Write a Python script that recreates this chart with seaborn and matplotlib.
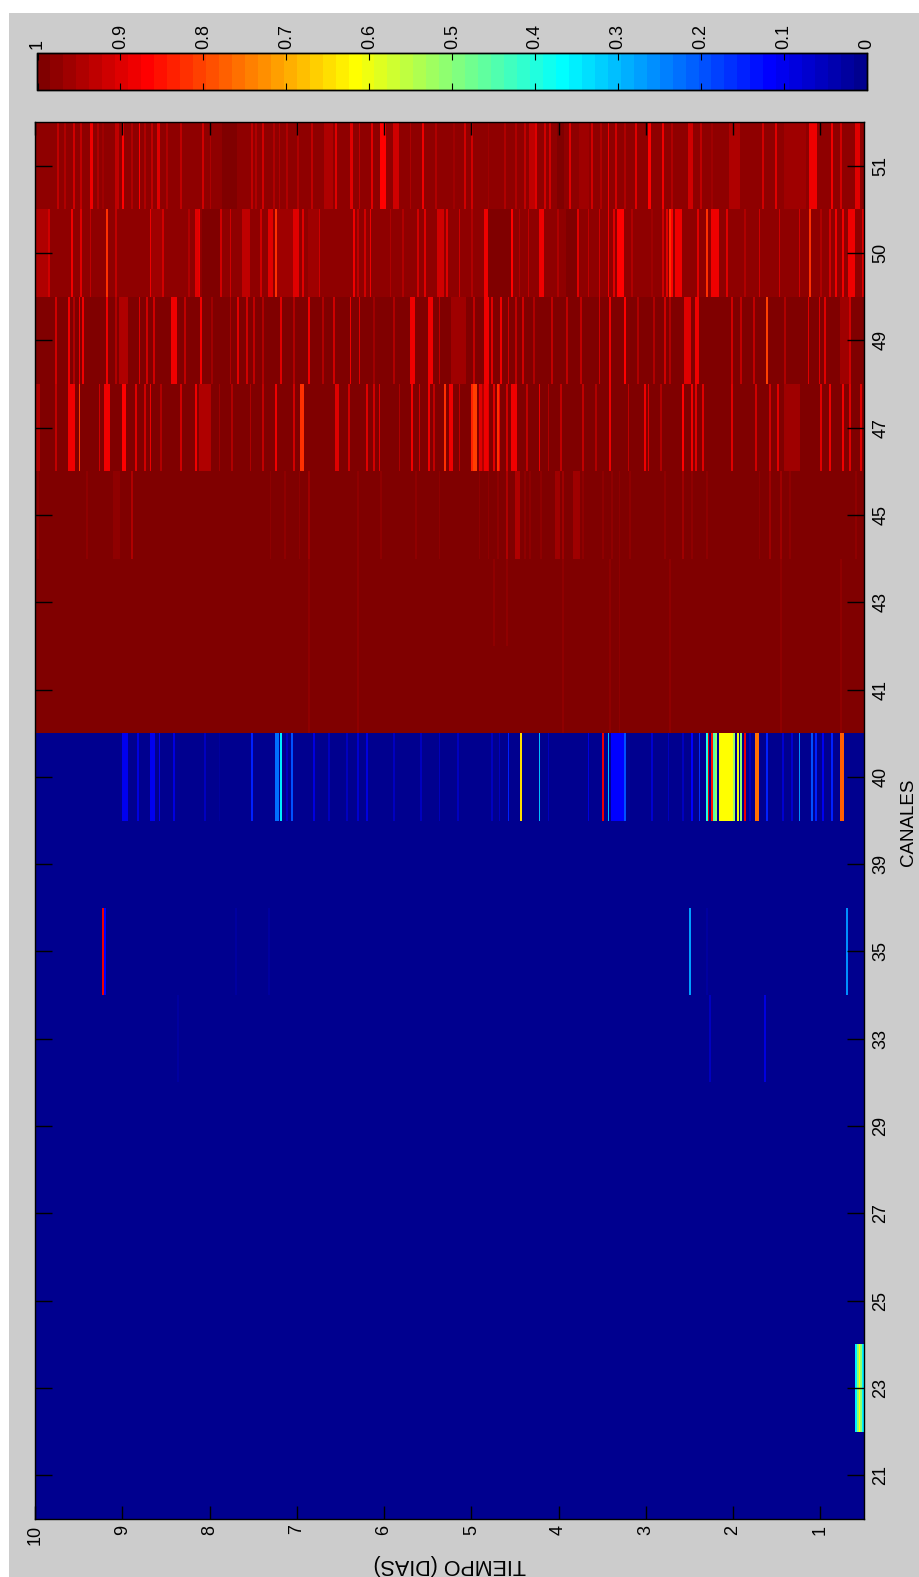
"""
plot.py
Mapa de canales vs tiempo (figura MATLAB girada), redibujado con seaborn.

Cada canal tiene un nivel de fondo y una lista de franjas leidas de la figura:
    (dia, valor)               una sola muestra
    (dia_ini, dia_fin, valor)  un tramo de varias muestras
"""

import matplotlib

matplotlib.use("Agg")

import matplotlib.pyplot as plt
import numpy as np
import seaborn as sns
from matplotlib.colors import LinearSegmentedColormap
from matplotlib.patches import Rectangle

plt.rcParams["font.family"] = ["Liberation Sans", "DejaVu Sans"]

# ── Datos ─────────────────────────────────────────────────────────────────────

CANALES = [51, 50, 49, 47, 45, 43, 41, 40, 39, 35, 33, 29, 27, 25, 23, 21]
FONDO = [0.975, 0.975, 0.985, 0.985, 1, 1, 1, 0.01, 0, 0, 0, 0, 0, 0, 0, 0]
DIAS_TICKS = [10, 9, 8, 7, 6, 5, 4, 3, 2, 1]
CBAR_TICKS = [0, 0.1, 0.2, 0.3, 0.4, 0.5, 0.6, 0.7, 0.8, 0.9, 1]
MUESTRAS_POR_DIA = 48
DIA_FINAL = 0.48

CH51 = [
    (9.74, 0.93), (9.67, 0.95), (9.56, 0.92), (9.47, 0.93), (9.38, 9.35, 0.88), (9.29, 0.94),
    (9.22, 0.96), (9.09, 9.07, 0.93), (9.00, 0.87), (8.89, 0.95), (8.81, 0.87), (8.74, 0.94),
    (8.66, 0.93), (8.60, 8.58, 0.90), (8.49, 0.94), (8.34, 0.93), (8.09, 0.92), (7.99, 0.94),
    (7.86, 7.70, 1.0), (7.53, 0.93), (7.47, 0.94), (7.40, 0.91), (7.28, 0.95), (7.21, 0.94),
    (7.13, 0.95), (7.00, 0.95), (6.84, 0.93), (6.69, 6.60, 0.95), (6.57, 0.90), (6.40, 6.38, 0.90),
    (6.29, 0.93), (6.14, 0.90), (6.04, 5.99, 0.87), (5.89, 5.85, 0.92), (5.71, 0.95), (5.56, 0.89),
    (5.41, 0.94), (5.20, 0.96), (5.08, 0.92), (4.99, 0.92), (4.81, 0.96), (4.62, 0.94), (4.51, 0.95),
    (4.39, 0.93), (4.34, 4.30, 0.93), (4.28, 0.90), (4.16, 0.92), (4.11, 0.92), (4.03, 3.95, 1.0),
    (3.88, 0.90), (3.78, 3.67, 0.96), (3.62, 0.92), (3.53, 0.94), (3.44, 0.88), (3.36, 0.92),
    (3.24, 0.94), (3.12, 0.90), (2.98, 2.95, 0.87), (2.82, 0.88), (2.71, 0.95), (2.52, 2.47, 0.91),
    (2.38, 0.93), (2.25, 0.96), (2.04, 1.94, 0.95), (1.66, 0.92), (1.52, 0.90), (1.41, 1.18, 0.96),
    (1.13, 1.07, 0.89), (0.88, 0.88), (0.78, 0.92), (0.60, 0.57, 0.90),
]
CH50 = [
    (10.0, 9.87, 0.95), (9.85, 0.91), (9.59, 0.89), (9.48, 0.90), (9.38, 0.93), (9.18, 0.82),
    (9.09, 0.93), (8.69, 0.875), (8.66, 8.56, 0.96), (8.54, 0.92), (8.24, 0.94), (8.17, 8.13, 0.90),
    (8.12, 0.88), (8.09, 7.90, 0.99), (7.87, 0.91), (7.77, 0.92), (7.63, 7.57, 0.93), (7.42, 0.92),
    (7.34, 7.30, 0.90), (7.24, 0.82), (7.23, 7.07, 0.96), (7.05, 7.00, 0.90), (6.93, 0.90),
    (6.88, 6.77, 0.96), (6.75, 0.91), (6.36, 0.875), (6.31, 0.93), (6.23, 0.91), (6.17, 0.875),
    (5.94, 0.95), (5.79, 0.95), (5.62, 0.91), (5.54, 0.90), (5.39, 5.33, 0.92), (5.29, 0.90),
    (5.14, 0.92), (5.00, 0.95), (4.86, 4.82, 0.885), (4.81, 4.57, 0.985), (4.54, 0.86), (4.45, 0.94),
    (4.35, 0.93), (4.23, 4.19, 0.875), (4.03, 0.95), (3.91, 3.80, 0.99), (3.79, 0.90), (3.67, 0.93),
    (3.55, 0.92), (3.43, 0.875), (3.37, 0.90), (3.33, 3.27, 0.87), (3.17, 0.95), (2.94, 0.96),
    (2.82, 0.92), (2.77, 0.90), (2.72, 0.82), (2.70, 0.87), (2.66, 2.60, 0.875), (2.42, 0.90),
    (2.31, 0.82), (2.25, 2.19, 0.875), (2.08, 0.90), (1.87, 0.95), (1.70, 0.91), (1.47, 0.91),
    (1.25, 0.91), (1.12, 0.82), (0.99, 0.95), (0.89, 0.91), (0.83, 0.89), (0.76, 0.88),
    (0.69, 0.63, 0.875), (0.53, 0.90),
]
CH49 = [
    (9.78, 0.91), (9.62, 0.875), (9.56, 0.94), (9.51, 0.875), (9.46, 0.89), (9.18, 0.89), (9.09, 0.95),
    (9.04, 8.95, 0.95), (8.81, 0.90), (8.73, 0.92), (8.65, 0.91), (8.43, 8.39, 0.875), (8.30, 0.93),
    (8.11, 0.875), (7.97, 0.96), (7.78, 0.95), (7.68, 0.90), (7.59, 0.91), (7.49, 0.93), (7.40, 0.95),
    (7.19, 0.90), (7.05, 0.95), (6.88, 0.88), (6.71, 0.94), (6.59, 0.92), (6.40, 0.875), (6.29, 0.90),
    (6.13, 0.96), (5.89, 0.95), (5.71, 5.66, 0.875), (5.49, 5.45, 0.885), (5.37, 0.93),
    (5.23, 5.08, 0.955), (4.97, 0.93), (4.86, 4.82, 0.875), (4.78, 0.90), (4.67, 0.875), (4.58, 0.91),
    (4.51, 0.93), (4.41, 0.92), (4.30, 0.94), (4.09, 0.93), (3.91, 0.93), (3.76, 0.93), (3.55, 0.92),
    (3.42, 0.88), (3.25, 0.86), (3.11, 0.94), (2.92, 0.94), (2.80, 0.91), (2.73, 0.94),
    (2.57, 2.51, 0.895), (2.44, 2.41, 0.875), (2.02, 0.91), (1.91, 0.93), (1.77, 0.93), (1.63, 0.81),
    (1.41, 0.95), (1.15, 0.90), (1.03, 0.90), (0.95, 0.90), (0.78, 0.68, 0.96), (0.66, 0.92),
]
CH47 = [
    (10.0, 9.96, 0.95), (9.77, 0.93), (9.62, 9.56, 0.875), (9.51, 0.81), (9.28, 0.91), (9.20, 9.16, 0.875),
    (9.00, 8.97, 0.86), (8.86, 0.90), (8.75, 0.91), (8.69, 0.875), (8.56, 0.95), (8.34, 0.91),
    (8.17, 0.875), (8.12, 8.01, 0.95), (7.90, 0.96), (7.74, 0.95), (7.55, 0.94), (7.40, 0.93),
    (7.25, 0.875), (7.05, 0.91), (6.96, 6.94, 0.82), (6.57, 0.90), (6.54, 0.90), (6.42, 0.92),
    (6.21, 0.90), (6.13, 0.91), (6.06, 0.90), (5.83, 0.94), (5.68, 0.875), (5.60, 0.92), (5.50, 0.875),
    (5.43, 0.93), (5.32, 0.82), (5.25, 0.875), (5.22, 0.875), (5.14, 0.93), (5.00, 0.83),
    (4.98, 4.96, 0.80), (4.91, 4.89, 0.90), (4.87, 0.95), (4.85, 4.83, 0.875), (4.81, 0.90), (4.74, 0.90),
    (4.71, 0.82), (4.68, 0.89),
    (4.60, 0.92), (4.55, 4.50, 0.875), (4.37, 0.93), (4.23, 0.875), (4.12, 0.94), (3.97, 0.93),
    (3.72, 0.93), (3.59, 0.94), (3.41, 0.875), (3.21, 0.93), (3.02, 0.875), (2.98, 0.90), (2.84, 0.95),
    (2.59, 0.86), (2.47, 0.875), (2.43, 0.90), (2.36, 0.90), (2.02, 0.90), (1.75, 0.92), (1.58, 0.92),
    (1.49, 0.90), (1.41, 1.25, 0.96), (1.01, 0.90), (0.89, 0.875), (0.76, 0.89), (0.66, 0.90), (0.54, 0.90),
]
CH45 = [
    (9.98, 0.97), (9.42, 0.98), (9.10, 9.04, 0.97), (8.89, 0.95), (7.31, 0.98), (7.14, 0.98), (6.98, 0.98),
    (6.87, 0.96), (6.31, 0.98), (6.04, 0.98), (5.65, 0.98), (5.37, 0.98), (4.92, 0.98), (4.81, 0.98),
    (4.71, 0.98), (4.60, 0.95), (4.49, 4.45, 0.95), (4.39, 0.97), (4.33, 0.98), (4.21, 0.98),
    (4.04, 4.00, 0.96), (3.96, 0.96), (3.83, 3.77, 0.96), (3.72, 0.98), (3.51, 0.98), (3.40, 0.97),
    (3.32, 0.97), (3.18, 0.98), (2.80, 0.98), (2.58, 0.96), (2.47, 0.97), (2.31, 0.97), (1.71, 0.98),
    (1.58, 0.96), (1.46, 0.96), (1.35, 0.98), (0.60, 0.98),
]
CH43 = [
    (6.88, 0.98), (6.31, 0.98), (4.75, 0.97), (4.60, 0.98), (3.95, 0.98), (3.42, 0.98), (3.32, 0.98),
    (2.72, 0.98), (1.45, 0.98), (0.78, 0.98),
]
CH41 = [
    (6.88, 0.98), (6.31, 0.98), (3.95, 0.98), (3.42, 0.98), (3.32, 0.98), (2.72, 0.98), (1.45, 0.98),
    (0.78, 0.98),
]
CH40 = [
    (9.00, 8.96, 0.10), (8.83, 0.08), (8.69, 8.65, 0.10), (8.58, 0.10), (8.41, 0.08), (8.07, 0.05),
    (7.90, 0.03), (7.52, 0.15), (7.25, 7.23, 0.22), (7.18, 0.35), (7.12, 0.06), (7.07, 0.20), (6.81, 0.08),
    (6.64, 0.05), (6.43, 0.05), (6.31, 0.07), (6.21, 0.08), (5.90, 0.05), (5.58, 0.05), (5.38, 0.05),
    (5.17, 0.05), (4.77, 0.05), (4.68, 0.05), (4.58, 0.15), (4.44, 0.65), (4.23, 0.30), (4.12, 0.05),
    (3.66, 0.08), (3.49, 0.88), (3.43, 0.30), (3.39, 3.26, 0.12), (3.25, 0.20), (2.94, 0.07), (2.74, 0.05),
    (2.58, 0.06), (2.48, 0.12), (2.40, 0.17), (2.32, 0.40), (2.29, 0.90), (2.26, 0.85), (2.23, 0.45),
    (2.20, 0.50), (2.16, 2.03, 0.62), (2.00, 0.52), (1.96, 0.60), (1.92, 0.50), (1.88, 0.88), (1.82, 0.05),
    (1.75, 1.73, 0.75), (1.62, 0.15), (1.43, 0.07), (1.34, 0.07), (1.24, 0.25), (1.11, 0.20), (1.07, 0.15),
    (0.97, 0.10), (0.88, 0.15), (0.78, 0.76, 0.78),
]
CH35 = [(9.23, 0.88), (9.20, 0.12), (7.70, 0.03), (7.33, 0.02), (2.49, 0.28), (2.32, 0.03), (0.70, 0.25)]
CH33 = [(8.38, 0.02), (2.28, 0.06), (1.64, 0.08)]
CH23 = [(0.60, 0.35), (0.58, 0.50), (0.56, 0.62), (0.54, 0.50), (0.52, 0.35)]

FRANJAS = {51: CH51, 50: CH50, 49: CH49, 47: CH47, 45: CH45, 43: CH43, 41: CH41,
           40: CH40, 35: CH35, 33: CH33, 23: CH23}

# ── Figura ────────────────────────────────────────────────────────────────────

ANCHO, ALTO = 920, 1577
GRIS = "#cccccc"


def caja(x0, y0, x1, y1):
    """Caja en pixeles de la figura (origen arriba) -> [left, bottom, w, h]."""
    return [x0 / ANCHO, 1 - y1 / ALTO, (x1 - x0) / ANCHO, (y1 - y0) / ALTO]


def muestra(dia):
    """Indice de columna de un dia (el eje corre de 10 hacia 0.48)."""
    return int(round((10 - dia) * MUESTRAS_POR_DIA))


def construir_matriz():
    n_cols = int((10 - DIA_FINAL) * MUESTRAS_POR_DIA)
    matriz = np.zeros((len(CANALES), n_cols))
    for fila, (canal, fondo) in enumerate(zip(CANALES, FONDO)):
        matriz[fila, :] = fondo
        for franja in FRANJAS.get(canal, []):
            ini, fin = muestra(franja[0]), muestra(franja[-2])
            matriz[fila, ini:min(fin + 1, n_cols)] = franja[-1]
    return matriz


def jet_matlab():
    """jet(64) de MATLAB: empieza en azul 0.5625, no en 0.5."""
    anclas = [(0, (0, 0, 0.5625)), (7 / 63, (0, 0, 1)), (23 / 63, (0, 1, 1)),
              (39 / 63, (1, 1, 0)), (55 / 63, (1, 0, 0)), (1, (0.5, 0, 0))]
    return LinearSegmentedColormap.from_list("jet64", anclas, N=64)


fig = plt.figure(figsize=(ANCHO / 100, ALTO / 100), dpi=100, facecolor="white")
fig.patches.append(Rectangle((9 / ANCHO, 0), 1, 1 - 13 / ALTO, transform=fig.transFigure,
                             facecolor=GRIS, edgecolor="none", zorder=-10))

ax = fig.add_axes(caja(35, 122, 864, 1519))
cax = fig.add_axes(caja(37.5, 53, 867, 90))

sns.heatmap(
    construir_matriz(), vmin=0, vmax=1, cmap=jet_matlab(), ax=ax, cbar_ax=cax,
    xticklabels=False, yticklabels=False,
    cbar_kws={"orientation": "horizontal", "ticks": CBAR_TICKS},
)
ax.set_axisbelow(False)

# Eje de tiempo
ax.set_xticks([(10 - d) * MUESTRAS_POR_DIA for d in DIAS_TICKS])
ax.set_xticklabels([str(d) for d in DIAS_TICKS], rotation=90, fontsize=13)
ax.tick_params(axis="x", direction="in", length=9.5, width=1.0, color="black", top=True, bottom=True, pad=4)

# Eje de canales, etiquetas a la derecha
ax.set_yticks(np.arange(len(CANALES)) + 0.5)
ax.set_yticklabels([str(c) for c in CANALES], rotation=90, va="center", fontsize=13)
ax.tick_params(axis="y", direction="in", length=12.5, width=1.0, color="black", left=True, right=True,
               labelleft=False, labelright=True, pad=6)

for lado in ax.spines.values():
    lado.set_visible(True)
    lado.set_linewidth(1.0)
    lado.set_color("black")

# Barra de color: 1 a la izquierda, marcas en ambos bordes
cax.invert_xaxis()
cax.xaxis.set_ticks_position("both")
cax.xaxis.set_label_position("top")
cax.set_xticks(CBAR_TICKS)
cax.set_xticklabels([f"{v:g}" for v in CBAR_TICKS], rotation=90, fontsize=13)
cax.tick_params(axis="x", direction="in", length=5, width=0.8, top=True, bottom=True,
                labeltop=True, labelbottom=False, pad=3)
for lado in cax.spines.values():
    lado.set_visible(True)
    lado.set_linewidth(1.0)
    lado.set_color("black")

fig.text(450 / ANCHO, 1 - 1564 / ALTO, "TIEMPO (DIAS)", rotation=180, ha="center", va="center", fontsize=15.5)
fig.text(909 / ANCHO, 1 - 822 / ALTO, "CANALES", rotation=90, ha="center", va="center", fontsize=13.5)

fig.savefig("out.png", dpi=100, facecolor=fig.get_facecolor())
